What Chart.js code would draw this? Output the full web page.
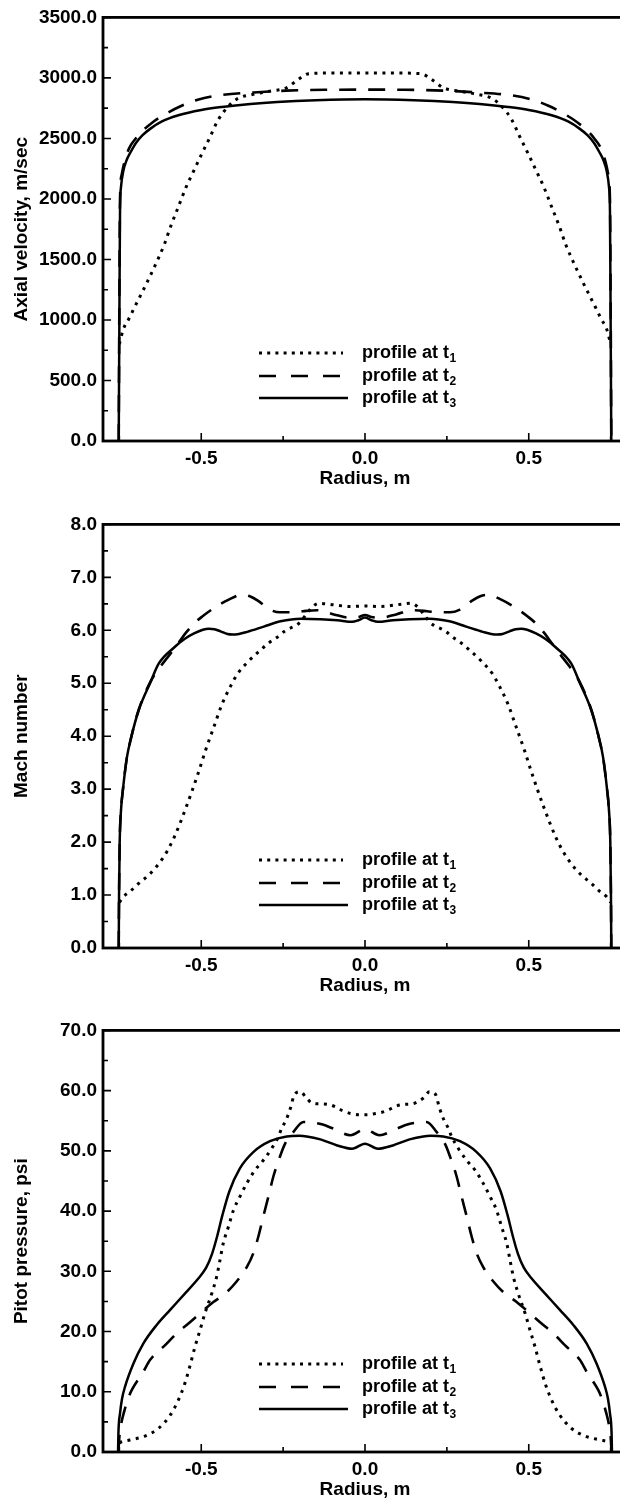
<!DOCTYPE html>
<html><head><meta charset="utf-8">
<script src="https://cdn.jsdelivr.net/npm/chart.js@4/dist/chart.umd.min.js"></script>
<style>
html,body{margin:0;padding:0;background:#fff;overflow:hidden;width:620px;height:1504px;position:relative;}
canvas{position:absolute;left:0;}
</style></head><body>
<canvas id="c1" width="630" height="500" style="top:0px"></canvas>
<canvas id="c2" width="630" height="500" style="top:507px"></canvas>
<canvas id="c3" width="630" height="498" style="top:1013px"></canvas>
<script>
// ---------- data ----------
const seriesLabels = ['profile at t\u2081', 'profile at t\u2082', 'profile at t\u2083'];
const xTitle = 'Radius, m';
const xTicks = [-0.5, 0, 0.5];
const xMinorTicks = [-0.75, -0.25, 0.25, 0.75];

const velTitle = 'Axial velocity, m/sec';
const velTicks = [0, 500, 1000, 1500, 2000, 2500, 3000, 3500];
const velMinorTicks = [250, 750, 1250, 1750, 2250, 2750, 3250];
const machTitle = 'Mach number';
const machTicks = [0, 1, 2, 3, 4, 5, 6, 7, 8];
const machMinorTicks = [0.5, 1.5, 2.5, 3.5, 4.5, 5.5, 6.5, 7.5];
const pitotTitle = 'Pitot pressure, psi';
const pitotTicks = [0, 10, 20, 30, 40, 50, 60, 70];
const pitotMinorTicks = [5, 15, 25, 35, 45, 55, 65];

// Axial velocity (r, m/sec)
const velT1 = [[-0.75,800],[-0.739,916],[-0.721,1010],[-0.703,1109],[-0.685,1205],[-0.667,1302],[-0.648,1410],[-0.63,1515],[-0.612,1630],[-0.594,1769],[-0.57,1934],[-0.546,2099],[-0.522,2237],[-0.498,2375],[-0.473,2512],[-0.449,2650],[-0.419,2760],[-0.389,2829],[-0.341,2865],[-0.29,2890],[-0.238,2920],[-0.205,2985],[-0.171,3035],[-0.1,3040],[0,3040],[0.1,3040],[0.171,3035],[0.205,2985],[0.238,2920],[0.29,2890],[0.341,2865],[0.389,2829],[0.419,2760],[0.449,2650],[0.473,2512],[0.498,2375],[0.522,2237],[0.546,2099],[0.57,1934],[0.594,1769],[0.612,1630],[0.63,1515],[0.648,1410],[0.667,1302],[0.685,1205],[0.703,1109],[0.721,1010],[0.739,916],[0.75,800]];
const velT2 = [[-0.752,0],[-0.75,1200],[-0.748,2000],[-0.743,2200],[-0.735,2300],[-0.72,2420],[-0.7,2500],[-0.686,2545],[-0.65,2630],[-0.607,2705],[-0.56,2770],[-0.511,2820],[-0.45,2855],[-0.34,2880],[-0.24,2895],[-0.12,2902],[0,2903],[0.12,2902],[0.24,2895],[0.34,2880],[0.45,2855],[0.511,2820],[0.56,2770],[0.607,2705],[0.65,2630],[0.686,2545],[0.7,2500],[0.72,2420],[0.735,2300],[0.743,2200],[0.748,2000],[0.75,1200],[0.752,0]];
const velT3 = [[-0.752,0],[-0.75,1000],[-0.748,1900],[-0.745,2100],[-0.738,2230],[-0.728,2320],[-0.715,2390],[-0.7,2460],[-0.68,2525],[-0.655,2581],[-0.62,2640],[-0.57,2691],[-0.5,2735],[-0.437,2760],[-0.35,2785],[-0.268,2801],[-0.15,2815],[0,2823],[0.15,2815],[0.268,2801],[0.35,2785],[0.437,2760],[0.5,2735],[0.57,2691],[0.62,2640],[0.655,2581],[0.68,2525],[0.7,2460],[0.715,2390],[0.728,2320],[0.738,2230],[0.745,2100],[0.748,1900],[0.75,1000],[0.752,0]];

// Mach number
const machT1 = [[-0.75,0.86],[-0.739,0.96],[-0.715,1.08],[-0.691,1.22],[-0.66,1.38],[-0.63,1.59],[-0.605,1.82],[-0.582,2.1],[-0.546,2.66],[-0.51,3.29],[-0.486,3.75],[-0.46,4.2],[-0.437,4.6],[-0.41,4.95],[-0.389,5.18],[-0.355,5.42],[-0.324,5.6],[-0.292,5.77],[-0.268,5.87],[-0.244,5.99],[-0.2,6.14],[-0.182,6.28],[-0.161,6.44],[-0.141,6.51],[-0.095,6.48],[-0.045,6.45],[0,6.46],[0.045,6.45],[0.095,6.48],[0.141,6.51],[0.161,6.44],[0.182,6.28],[0.2,6.14],[0.244,5.99],[0.268,5.87],[0.292,5.77],[0.324,5.6],[0.355,5.42],[0.389,5.18],[0.41,4.95],[0.437,4.6],[0.46,4.2],[0.486,3.75],[0.51,3.29],[0.546,2.66],[0.582,2.1],[0.605,1.82],[0.63,1.59],[0.66,1.38],[0.691,1.22],[0.715,1.08],[0.739,0.96],[0.75,0.86]];
const machT2 = [[-0.752,0],[-0.751,1.0],[-0.749,2.0],[-0.745,2.6],[-0.739,3.0],[-0.727,3.6],[-0.715,3.95],[-0.691,4.5],[-0.655,5.03],[-0.624,5.32],[-0.594,5.56],[-0.57,5.76],[-0.546,5.96],[-0.52,6.14],[-0.497,6.26],[-0.461,6.42],[-0.416,6.58],[-0.375,6.67],[-0.35,6.64],[-0.327,6.56],[-0.29,6.39],[-0.26,6.34],[-0.22,6.34],[-0.19,6.36],[-0.146,6.38],[-0.095,6.3],[-0.05,6.24],[-0.02,6.25],[0,6.29],[0.02,6.25],[0.05,6.24],[0.095,6.3],[0.146,6.38],[0.19,6.36],[0.22,6.34],[0.26,6.34],[0.29,6.39],[0.327,6.56],[0.35,6.64],[0.375,6.67],[0.416,6.58],[0.461,6.42],[0.497,6.26],[0.52,6.14],[0.546,5.96],[0.57,5.76],[0.594,5.56],[0.624,5.32],[0.655,5.03],[0.691,4.5],[0.715,3.95],[0.727,3.6],[0.739,3.0],[0.745,2.6],[0.749,2.0],[0.751,1.0],[0.752,0]];
const machT3 = [[-0.752,0],[-0.751,1.0],[-0.749,2.0],[-0.745,2.6],[-0.739,3.0],[-0.727,3.6],[-0.715,3.95],[-0.691,4.49],[-0.655,5.02],[-0.63,5.37],[-0.582,5.68],[-0.55,5.84],[-0.522,5.94],[-0.495,6.01],[-0.477,6.03],[-0.46,6.02],[-0.441,5.98],[-0.42,5.93],[-0.405,5.92],[-0.385,5.93],[-0.36,5.97],[-0.309,6.07],[-0.258,6.17],[-0.197,6.22],[-0.136,6.21],[-0.085,6.19],[-0.039,6.16],[-0.02,6.19],[0,6.24],[0.02,6.19],[0.039,6.16],[0.085,6.19],[0.136,6.21],[0.197,6.22],[0.258,6.17],[0.309,6.07],[0.36,5.97],[0.385,5.93],[0.405,5.92],[0.42,5.93],[0.441,5.98],[0.46,6.02],[0.477,6.03],[0.495,6.01],[0.522,5.94],[0.55,5.84],[0.582,5.68],[0.63,5.37],[0.655,5.02],[0.691,4.49],[0.715,3.95],[0.727,3.6],[0.739,3.0],[0.745,2.6],[0.749,2.0],[0.751,1.0],[0.752,0]];

// Pitot pressure, psi
const pitotT1 = [[-0.75,1.5],[-0.743,1.7],[-0.718,2.0],[-0.672,2.65],[-0.631,3.9],[-0.595,6.1],[-0.57,8.6],[-0.55,11.4],[-0.534,14.4],[-0.519,17.5],[-0.504,20.2],[-0.489,23.0],[-0.468,26.3],[-0.453,29.1],[-0.443,31.8],[-0.433,34.6],[-0.417,37.4],[-0.402,40.1],[-0.382,42.4],[-0.361,44.6],[-0.336,46.8],[-0.311,48.4],[-0.285,50.4],[-0.265,52.3],[-0.254,53.8],[-0.243,54.9],[-0.236,55.8],[-0.227,57.2],[-0.215,59.4],[-0.197,59.8],[-0.179,58.8],[-0.161,57.9],[-0.136,57.8],[-0.111,57.7],[-0.09,57.3],[-0.07,56.7],[-0.044,56.2],[-0.019,56.0],[0.006,56.0],[0.032,56.2],[0.052,56.4],[0.072,56.8],[0.093,57.4],[0.118,57.7],[0.144,57.8],[0.165,58.3],[0.179,58.8],[0.197,59.8],[0.215,59.4],[0.227,57.2],[0.236,55.8],[0.243,54.9],[0.254,53.8],[0.265,52.3],[0.285,50.4],[0.311,48.4],[0.336,46.8],[0.361,44.6],[0.382,42.4],[0.402,40.1],[0.417,37.4],[0.433,34.6],[0.443,31.8],[0.453,29.1],[0.468,26.3],[0.489,23.0],[0.504,20.2],[0.519,17.5],[0.534,14.4],[0.55,11.4],[0.57,8.6],[0.595,6.1],[0.631,3.9],[0.672,2.65],[0.718,2.0],[0.743,1.7],[0.75,1.5]];
const pitotT2 = [[-0.753,0],[-0.75,2.5],[-0.745,4.5],[-0.735,6.8],[-0.723,8.9],[-0.712,10.3],[-0.677,13.3],[-0.656,15.3],[-0.611,17.7],[-0.575,19.7],[-0.54,21.3],[-0.504,23.0],[-0.463,24.9],[-0.427,26.3],[-0.392,28.3],[-0.361,30.7],[-0.341,33.0],[-0.326,35.7],[-0.311,39.0],[-0.295,42.4],[-0.28,45.7],[-0.26,49.0],[-0.244,51.2],[-0.219,53.1],[-0.188,54.8],[-0.16,54.7],[-0.132,54.4],[-0.097,53.7],[-0.044,52.6],[0,53.6],[0.044,52.6],[0.097,53.7],[0.132,54.4],[0.16,54.7],[0.188,54.8],[0.219,53.1],[0.244,51.2],[0.26,49.0],[0.28,45.7],[0.295,42.4],[0.311,39.0],[0.326,35.7],[0.341,33.0],[0.361,30.7],[0.392,28.3],[0.427,26.3],[0.463,24.9],[0.504,23.0],[0.54,21.3],[0.575,19.7],[0.611,17.7],[0.656,15.3],[0.677,13.3],[0.712,10.3],[0.723,8.9],[0.735,6.8],[0.745,4.5],[0.75,2.5],[0.753,0]];
const pitotT3 = [[-0.754,0],[-0.753,3],[-0.748,6.4],[-0.742,8.8],[-0.733,10.8],[-0.707,14.7],[-0.677,18.0],[-0.636,21.1],[-0.595,23.6],[-0.55,26.3],[-0.509,28.8],[-0.485,30.6],[-0.467,32.9],[-0.451,35.9],[-0.435,39.4],[-0.414,43.3],[-0.382,47.1],[-0.341,49.8],[-0.29,51.6],[-0.239,52.4],[-0.2,52.5],[-0.178,52.4],[-0.136,51.9],[-0.085,50.9],[-0.039,50.35],[0,51.2],[0.039,50.35],[0.085,50.9],[0.136,51.9],[0.178,52.4],[0.2,52.5],[0.239,52.4],[0.29,51.6],[0.341,49.8],[0.382,47.1],[0.414,43.3],[0.435,39.4],[0.451,35.9],[0.467,32.9],[0.485,30.6],[0.509,28.8],[0.55,26.3],[0.595,23.6],[0.636,21.1],[0.677,18.0],[0.707,14.7],[0.733,10.8],[0.742,8.8],[0.748,6.4],[0.753,3],[0.754,0]];

// ---------- styling / drawing ----------
const FONT_FAMILY = '"Liberation Sans", Arial, Helvetica, sans-serif';
const tickFont = {family: FONT_FAMILY, size: 19, weight: 'bold'};

const lineStyles = [
  {borderDash: [3, 5.5], borderWidth: 3, legendDash: [3, 5.2]},
  {borderDash: [17, 12], borderWidth: 2.6, legendDash: [17, 15]},
  {borderDash: [], borderWidth: 2.5, legendDash: []}
];

const frameTicksPlugin = {
  id: 'frameTicks',
  afterDatasetsDraw(chart, args, opts) {
    const {ctx, chartArea: a} = chart;
    const x = chart.scales.x, y = chart.scales.y;
    ctx.save();
    ctx.strokeStyle = '#000';
    ctx.lineCap = 'butt';
    ctx.setLineDash([]);
    ctx.lineWidth = 1.6;
    ctx.beginPath();
    xTicks.forEach(v => { const p = x.getPixelForValue(v); ctx.moveTo(p, a.bottom); ctx.lineTo(p, a.bottom - 8); });
    xMinorTicks.forEach(v => { const p = x.getPixelForValue(v); ctx.moveTo(p, a.bottom); ctx.lineTo(p, a.bottom - 5); });
    opts.yMajor.forEach(v => { const p = y.getPixelForValue(v); ctx.moveTo(a.left, p); ctx.lineTo(a.left + 8, p); });
    opts.yMinor.forEach(v => { const p = y.getPixelForValue(v); ctx.moveTo(a.left, p); ctx.lineTo(a.left + 5, p); });
    ctx.stroke();
    ctx.lineWidth = 2.8;
    ctx.strokeRect(a.left, a.top, a.right - a.left, a.bottom - a.top);

    // legend inside the plot
    const rowOffsets = [88, 65, 43];
    chart.data.datasets.forEach((ds, i) => {
      const yy = a.bottom - rowOffsets[i];
      const st = lineStyles[i];
      ctx.beginPath();
      ctx.lineWidth = st.borderWidth;
      ctx.setLineDash(st.legendDash);
      ctx.moveTo(a.left + 156, yy);
      ctx.lineTo(a.left + (i === 2 ? 245 : 240), yy);
      ctx.stroke();
      ctx.setLineDash([]);
      const label = ds.label;
      const base = label.slice(0, -1);
      const sub = String(label.charCodeAt(label.length - 1) - 0x2080);
      ctx.fillStyle = '#000';
      ctx.textBaseline = 'middle';
      ctx.textAlign = 'left';
      ctx.font = 'bold 18px ' + FONT_FAMILY;
      const tx = a.left + 259;
      ctx.fillText(base, tx, yy);
      const w = ctx.measureText(base).width;
      ctx.font = 'bold 12px ' + FONT_FAMILY;
      ctx.fillText(sub, tx + w + 0.5, yy + 6);
    });
    ctx.restore();
  }
};

function makePanel(id, padTop, yMin, yMax, yTicks, yMinor, yTitle, series) {
  const datasets = series.map((pts, i) => ({
    label: seriesLabels[i],
    data: pts.map(p => ({x: p[0], y: p[1]})),
    borderColor: '#000',
    backgroundColor: '#000',
    borderWidth: lineStyles[i].borderWidth,
    borderDash: lineStyles[i].borderDash,
    borderCapStyle: 'butt',
    pointRadius: 0,
    fill: false,
    cubicInterpolationMode: 'monotone'
  }));
  return new Chart(document.getElementById(id), {
    type: 'line',
    data: {datasets},
    options: {
      responsive: false,
      animation: false,
      events: [],
      layout: {padding: {top: padTop, right: 3, left: 0, bottom: 0}},
      plugins: {
        legend: {display: false},
        tooltip: {enabled: false},
        frameTicks: {yMajor: yTicks, yMinor: yMinor}
      },
      scales: {
        x: {
          type: 'linear', min: -0.8, max: 0.8,
          grid: {display: false, drawTicks: false},
          border: {display: false},
          afterBuildTicks: s => { s.ticks = xTicks.map(v => ({value: v})); },
          afterFit: s => { s.height = 59; },
          ticks: {padding: 6, color: '#000', font: tickFont, maxRotation: 0, autoSkip: false,
                  callback: v => Number(v).toFixed(1)},
          title: {display: true, text: xTitle, color: '#000', font: tickFont, padding: {top: 0, bottom: 9.6}}
        },
        y: {
          type: 'linear', min: yMin, max: yMax,
          grid: {display: false, drawTicks: false},
          border: {display: false},
          afterBuildTicks: s => { s.ticks = yTicks.map(v => ({value: v})); },
          afterFit: s => { s.width = 103; },
          ticks: {padding: 6, color: '#000', font: tickFont, autoSkip: false,
                  callback: v => Number(v).toFixed(1)},
          title: {display: true, text: yTitle, color: '#000', font: tickFont, padding: {top: 10, bottom: 0}}
        }
      }
    },
    plugins: [frameTicksPlugin]
  });
}

makePanel('c1', 16.5, 0, 3500, velTicks, velMinorTicks, velTitle, [velT1, velT2, velT3]);
makePanel('c2', 17, 0, 8, machTicks, machMinorTicks, machTitle, [machT1, machT2, machT3]);
makePanel('c3', 17, 0, 70, pitotTicks, pitotMinorTicks, pitotTitle, [pitotT1, pitotT2, pitotT3]);
</script>
</body></html>
